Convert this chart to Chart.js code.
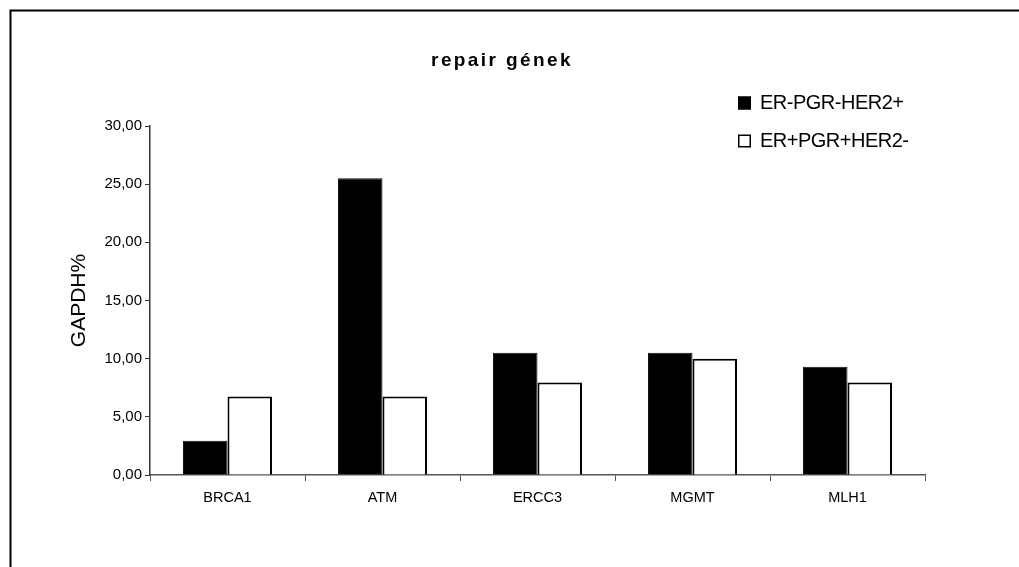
<!DOCTYPE html>
<html>
<head>
<meta charset="utf-8">
<script src="https://cdn.jsdelivr.net/npm/chart.js@4/dist/chart.umd.min.js"></script>
<style>
  html, body { margin: 0; padding: 0; background: #fff; }
  #wrap { position: relative; width: 1019px; height: 567px; }
</style>
</head>
<body>
<div id="wrap"><canvas id="chart" width="1019" height="567"></canvas></div>
<script>
// Gene expression relative to GAPDH, two receptor-status groups
const genes = ['BRCA1', 'ATM', 'ERCC3', 'MGMT', 'MLH1'];
const seriesNames = ['ER-PGR-HER2+', 'ER+PGR+HER2-'];
const erNegHer2Pos = [2.95, 25.5, 10.5, 10.5, 9.3];
const erPosHer2Neg = [6.75, 6.75, 7.95, 10.0, 7.95];
const yTicks = [0, 5, 10, 15, 20, 25, 30];

const chartTitle = 'repair gének';
const axisTitle = 'GAPDH%';
const FONT = '"Liberation Sans", Arial, sans-serif';

// Frame around the figure (open at right and bottom)
const framePlugin = {
  id: 'frame',
  beforeDraw(chart) {
    const ctx = chart.ctx;
    ctx.save();
    ctx.fillStyle = '#fff';
    ctx.fillRect(0, 0, chart.width, chart.height);
    ctx.strokeStyle = '#000';
    ctx.lineWidth = 2;
    ctx.beginPath();
    ctx.moveTo(10.5, chart.height + 2);
    ctx.lineTo(10.5, 10.5);
    ctx.lineTo(chart.width + 2, 10.5);
    ctx.stroke();
    ctx.restore();
  }
};

// Spaced bold heading
const headingPlugin = {
  id: 'heading',
  afterDraw(chart) {
    const ctx = chart.ctx;
    ctx.save();
    ctx.font = 'bold 19px ' + FONT;
    ctx.fillStyle = '#000';
    ctx.textBaseline = 'alphabetic';
    ctx.textAlign = 'center';
    if ('letterSpacing' in ctx) ctx.letterSpacing = '2.4px';
    ctx.fillText(chartTitle, 502, 66);
    ctx.restore();
  }
};

// Stacked legend in the upper right
const legendPlugin = {
  id: 'stackedLegend',
  afterDraw(chart) {
    const ctx = chart.ctx;
    const rows = [103, 141];
    ctx.save();
    chart.data.datasets.forEach((ds, i) => {
      const cy = rows[i];
      ctx.fillStyle = ds.backgroundColor;
      ctx.fillRect(738, cy - 6.5, 13, 13);
      ctx.strokeStyle = '#000';
      ctx.lineWidth = 1.5;
      ctx.strokeRect(738.75, cy - 5.75, 11.5, 11.5);
      ctx.fillStyle = '#000';
      ctx.font = '20px ' + FONT;
      ctx.textBaseline = 'middle';
      ctx.textAlign = 'left';
      if ('letterSpacing' in ctx) ctx.letterSpacing = '-0.5px';
      ctx.fillText(ds.label, 760, cy + 0.5);
    });
    ctx.restore();
  }
};

new Chart(document.getElementById('chart'), {
  type: 'bar',
  data: {
    labels: genes,
    datasets: [
      {
        label: seriesNames[0],
        data: erNegHer2Pos,
        backgroundColor: '#000',
        borderColor: '#111',
        borderWidth: 1
      },
      {
        label: seriesNames[1],
        data: erPosHer2Neg,
        backgroundColor: '#fff',
        borderColor: '#000',
        borderWidth: 2
      }
    ]
  },
  options: {
    responsive: false,
    animation: false,
    devicePixelRatio: 1,
    layout: { padding: { top: 126, right: 94, bottom: 0, left: 0 } },
    datasets: { bar: { categoryPercentage: 0.574, barPercentage: 1.0 } },
    plugins: {
      legend: { display: false },
      title: { display: false },
      tooltip: { enabled: false }
    },
    scales: {
      x: {
        type: 'category',
        afterFit(scale) { scale.height = 92; },
        grid: {
          offset: true,
          drawOnChartArea: false,
          drawTicks: true,
          tickLength: 6,
          color: '#555',
          lineWidth: 1
        },
        border: { display: true, color: '#555', width: 1.5 },
        ticks: {
          color: '#000',
          font: { family: FONT, size: 14.5 },
          padding: 8
        }
      },
      y: {
        min: 0,
        max: 30,
        afterFit(scale) { scale.width = 150; },
        afterBuildTicks(scale) { scale.ticks = yTicks.map(v => ({ value: v })); },
        grid: {
          drawOnChartArea: false,
          drawTicks: true,
          tickLength: 5,
          color: '#333',
          lineWidth: 1
        },
        border: { display: true, color: '#333', width: 1.5 },
        ticks: {
          color: '#000',
          font: { family: FONT, size: 15 },
          padding: 3,
          callback: v => Number(v).toFixed(2).replace('.', ',')
        },
        title: {
          display: true,
          text: axisTitle,
          color: '#000',
          font: { family: FONT, size: 21 },
          padding: { top: 67, bottom: 0 }
        }
      }
    }
  },
  plugins: [framePlugin, headingPlugin, legendPlugin]
});
</script>
</body>
</html>
